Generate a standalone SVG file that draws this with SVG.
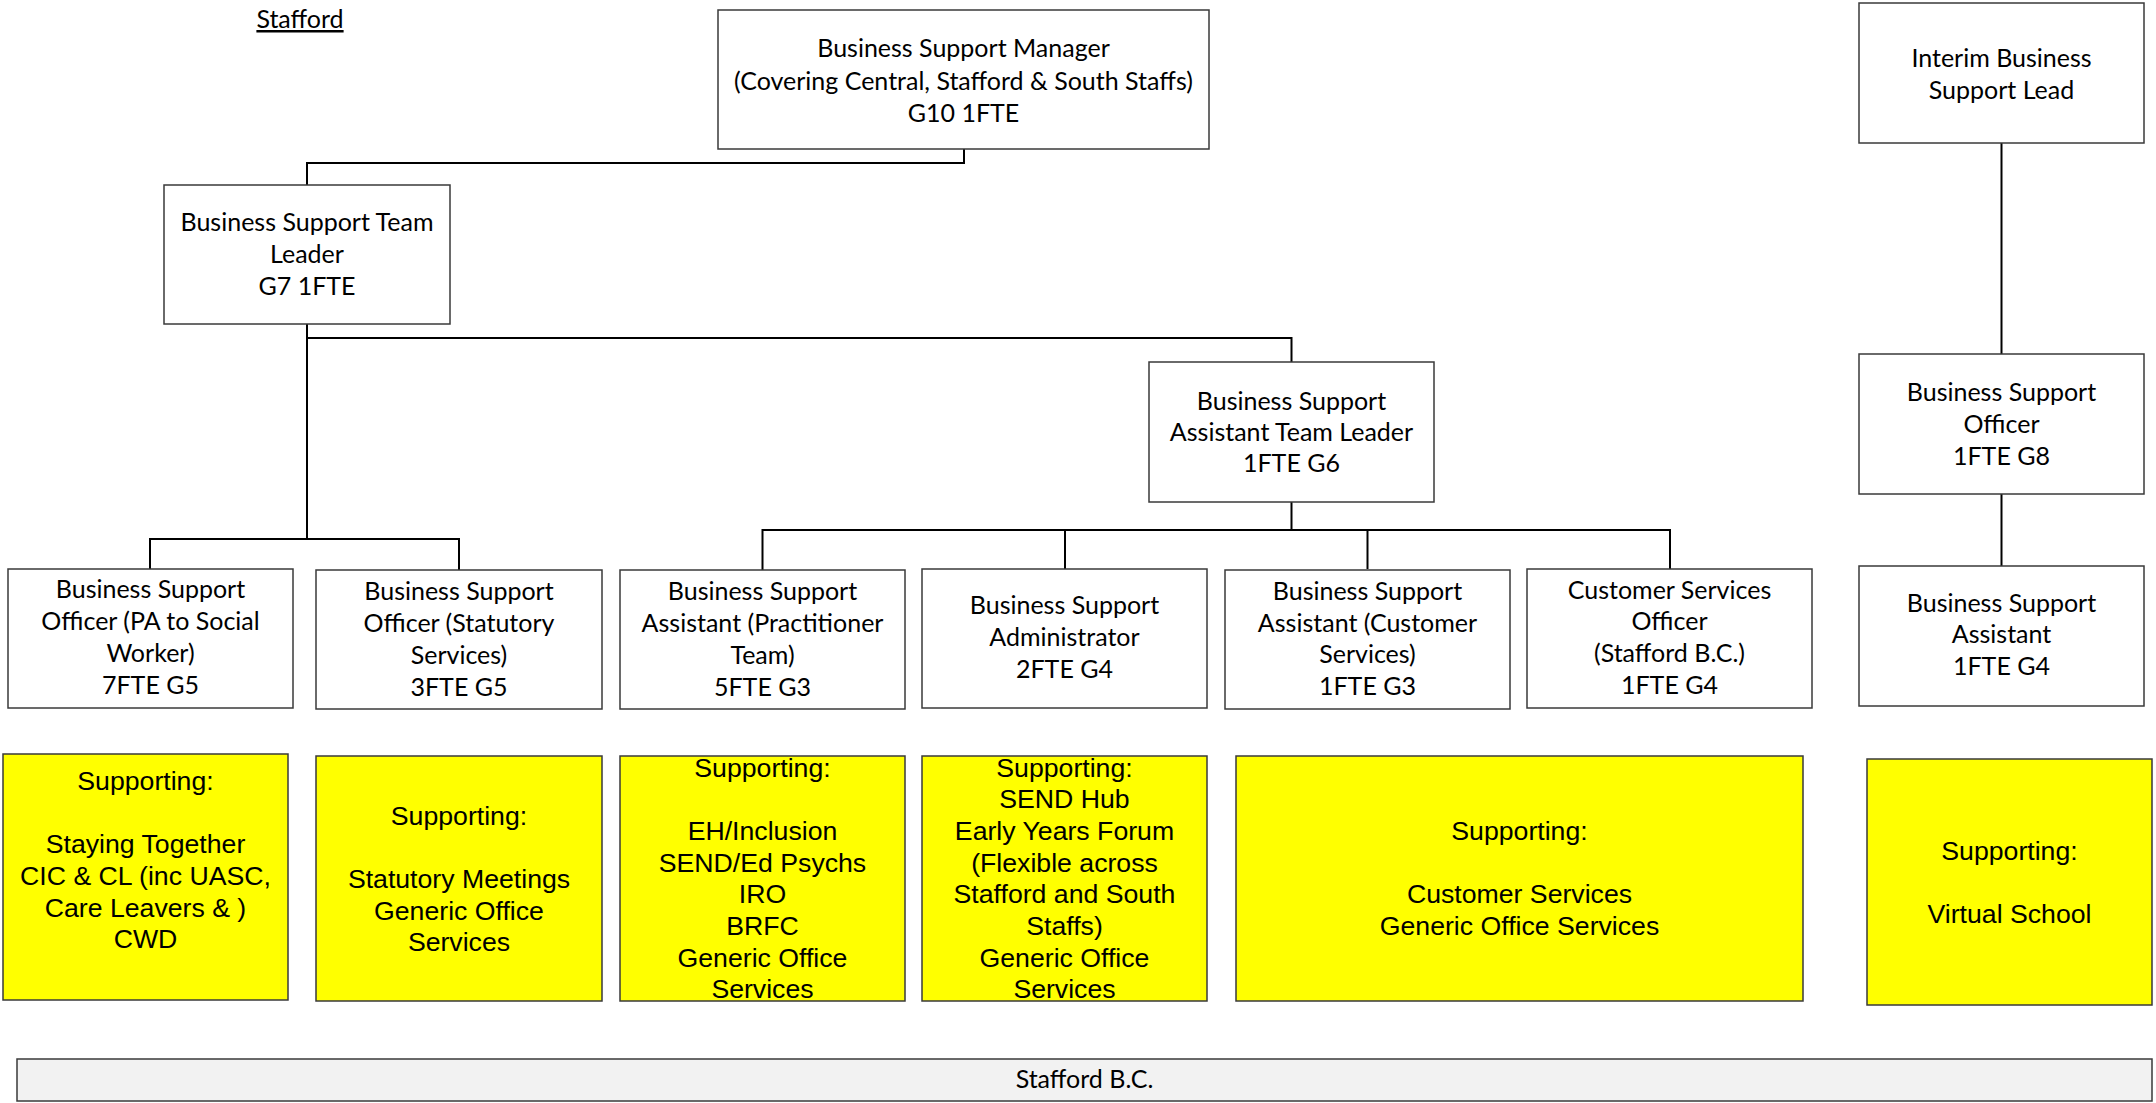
<svg xmlns="http://www.w3.org/2000/svg" width="2156" height="1103" viewBox="0 0 2156 1103">
<style>
.box{fill:#ffffff;stroke:#3a3a3a;stroke-width:1.5}
.yb{fill:#ffff00;stroke:#3a3a3a;stroke-width:1.5}
.bar{fill:#f2f2f2;stroke:#3a3a3a;stroke-width:1.5}
.t{font-family:Lato,"Liberation Sans",sans-serif;font-size:25px;fill:#000;text-anchor:middle}
.y{font-family:"Liberation Sans",Arial,sans-serif;font-size:26.67px;fill:#000;text-anchor:middle}
.c{fill:none;stroke:#000;stroke-width:2}
</style>
<rect width="2156" height="1103" fill="#ffffff"/>
<text id="title" class="t" x="300" y="28" text-decoration="underline">Stafford</text>

<g id="connectors">
<path class="c" d="M964 149 V163 H307 V185"/>
<path class="c" d="M307 324 V539"/>
<path class="c" d="M150 569 V539 H459 V570"/>
<path class="c" d="M307 338 H1291.5 V362"/>
<path class="c" d="M1291.5 502 V530"/>
<path class="c" d="M762.5 570 V530 H1670 V569"/>
<path class="c" d="M1065 530 V569"/>
<path class="c" d="M1367.5 530 V569"/>
<path class="c" d="M2001.5 143 V354"/>
<path class="c" d="M2001.5 494 V566"/>
</g>

<g id="manager"><rect class="box" x="718" y="10" width="491" height="139"/>
<text class="t" x="963.5"><tspan x="963.5" y="57">Business Support Manager</tspan><tspan x="963.5" y="89.5">(Covering Central, Stafford &amp; South Staffs)</tspan><tspan x="963.5" y="122">G10 1FTE</tspan></text></g>

<g id="team-leader"><rect class="box" x="164" y="185" width="286" height="139"/>
<text class="t"><tspan x="307" y="231">Business Support Team</tspan><tspan x="307" y="263">Leader</tspan><tspan x="307" y="295">G7 1FTE</tspan></text></g>

<g id="interim-lead"><rect class="box" x="1859" y="3" width="285" height="140"/>
<text class="t"><tspan x="2001.5" y="67">Interim Business</tspan><tspan x="2001.5" y="99">Support Lead</tspan></text></g>

<g id="officer-g8"><rect class="box" x="1859" y="354" width="285" height="140"/>
<text class="t"><tspan x="2001.5" y="401">Business Support</tspan><tspan x="2001.5" y="433">Officer</tspan><tspan x="2001.5" y="465">1FTE G8</tspan></text></g>

<g id="assistant-team-leader"><rect class="box" x="1149" y="362" width="285" height="140"/>
<text class="t"><tspan x="1291.5" y="410">Business Support</tspan><tspan x="1291.5" y="441">Assistant Team Leader</tspan><tspan x="1291.5" y="472">1FTE G6</tspan></text></g>

<g id="officer-pa"><rect class="box" x="8" y="569" width="285" height="139"/>
<text class="t"><tspan x="150.5" y="598">Business Support</tspan><tspan x="150.5" y="630">Officer (PA to Social</tspan><tspan x="150.5" y="662">Worker)</tspan><tspan x="150.5" y="694">7FTE G5</tspan></text></g>

<g id="officer-statutory"><rect class="box" x="316" y="570" width="286" height="139"/>
<text class="t"><tspan x="459" y="600">Business Support</tspan><tspan x="459" y="632">Officer (Statutory</tspan><tspan x="459" y="664">Services)</tspan><tspan x="459" y="696">3FTE G5</tspan></text></g>

<g id="assistant-practitioner"><rect class="box" x="620" y="570" width="285" height="139"/>
<text class="t"><tspan x="762.5" y="600">Business Support</tspan><tspan x="762.5" y="632">Assistant (Practitioner</tspan><tspan x="762.5" y="664">Team)</tspan><tspan x="762.5" y="696">5FTE G3</tspan></text></g>

<g id="administrator"><rect class="box" x="922" y="569" width="285" height="139"/>
<text class="t"><tspan x="1064.5" y="614">Business Support</tspan><tspan x="1064.5" y="646">Administrator</tspan><tspan x="1064.5" y="678">2FTE G4</tspan></text></g>

<g id="assistant-customer"><rect class="box" x="1225" y="570" width="285" height="139"/>
<text class="t"><tspan x="1367.5" y="600">Business Support</tspan><tspan x="1367.5" y="632">Assistant (Customer</tspan><tspan x="1367.5" y="663">Services)</tspan><tspan x="1367.5" y="695">1FTE G3</tspan></text></g>

<g id="customer-services-officer"><rect class="box" x="1527" y="569" width="285" height="139"/>
<text class="t"><tspan x="1669.5" y="599">Customer Services</tspan><tspan x="1669.5" y="630">Officer</tspan><tspan x="1669.5" y="662">(Stafford B.C.)</tspan><tspan x="1669.5" y="694">1FTE G4</tspan></text></g>

<g id="assistant-g4"><rect class="box" x="1859" y="566" width="285" height="140"/>
<text class="t"><tspan x="2001.5" y="612">Business Support</tspan><tspan x="2001.5" y="643">Assistant</tspan><tspan x="2001.5" y="675">1FTE G4</tspan></text></g>

<g id="supporting-1"><rect class="yb" x="3" y="754" width="285" height="246"/>
<text class="y"><tspan x="145.5" y="789.5">Supporting:</tspan><tspan x="145.5" y="853">Staying Together</tspan><tspan x="145.5" y="885">CIC &amp; CL (inc UASC,</tspan><tspan x="145.5" y="916.5">Care Leavers &amp; )</tspan><tspan x="145.5" y="948">CWD</tspan></text></g>

<g id="supporting-2"><rect class="yb" x="316" y="756" width="286" height="245"/>
<text class="y"><tspan x="459" y="824.5">Supporting:</tspan><tspan x="459" y="888">Statutory Meetings</tspan><tspan x="459" y="919.5">Generic Office</tspan><tspan x="459" y="951">Services</tspan></text></g>

<g id="supporting-3"><rect class="yb" x="620" y="756" width="285" height="245"/>
<text class="y"><tspan x="762.5" y="776.5">Supporting:</tspan><tspan x="762.5" y="840">EH/Inclusion</tspan><tspan x="762.5" y="871.5">SEND/Ed Psychs</tspan><tspan x="762.5" y="903">IRO</tspan><tspan x="762.5" y="935">BRFC</tspan><tspan x="762.5" y="966.5">Generic Office</tspan><tspan x="762.5" y="998">Services</tspan></text></g>

<g id="supporting-4"><rect class="yb" x="922" y="756" width="285" height="245"/>
<text class="y"><tspan x="1064.5" y="776.5">Supporting:</tspan><tspan x="1064.5" y="808">SEND Hub</tspan><tspan x="1064.5" y="840">Early Years Forum</tspan><tspan x="1064.5" y="871.5">(Flexible across</tspan><tspan x="1064.5" y="903">Stafford and South</tspan><tspan x="1064.5" y="935">Staffs)</tspan><tspan x="1064.5" y="966.5">Generic Office</tspan><tspan x="1064.5" y="998">Services</tspan></text></g>

<g id="supporting-5"><rect class="yb" x="1236" y="756" width="567" height="245"/>
<text class="y"><tspan x="1519.5" y="839.5">Supporting:</tspan><tspan x="1519.5" y="903">Customer Services</tspan><tspan x="1519.5" y="934.5">Generic Office Services</tspan></text></g>

<g id="supporting-6"><rect class="yb" x="1867" y="759" width="285" height="246"/>
<text class="y"><tspan x="2009.5" y="859.5">Supporting:</tspan><tspan x="2009.5" y="923">Virtual School</tspan></text></g>

<g id="stafford-bc"><rect class="bar" x="17" y="1059" width="2135" height="42"/>
<text class="t" x="1084.5" y="1088">Stafford B.C.</text></g>
</svg>
